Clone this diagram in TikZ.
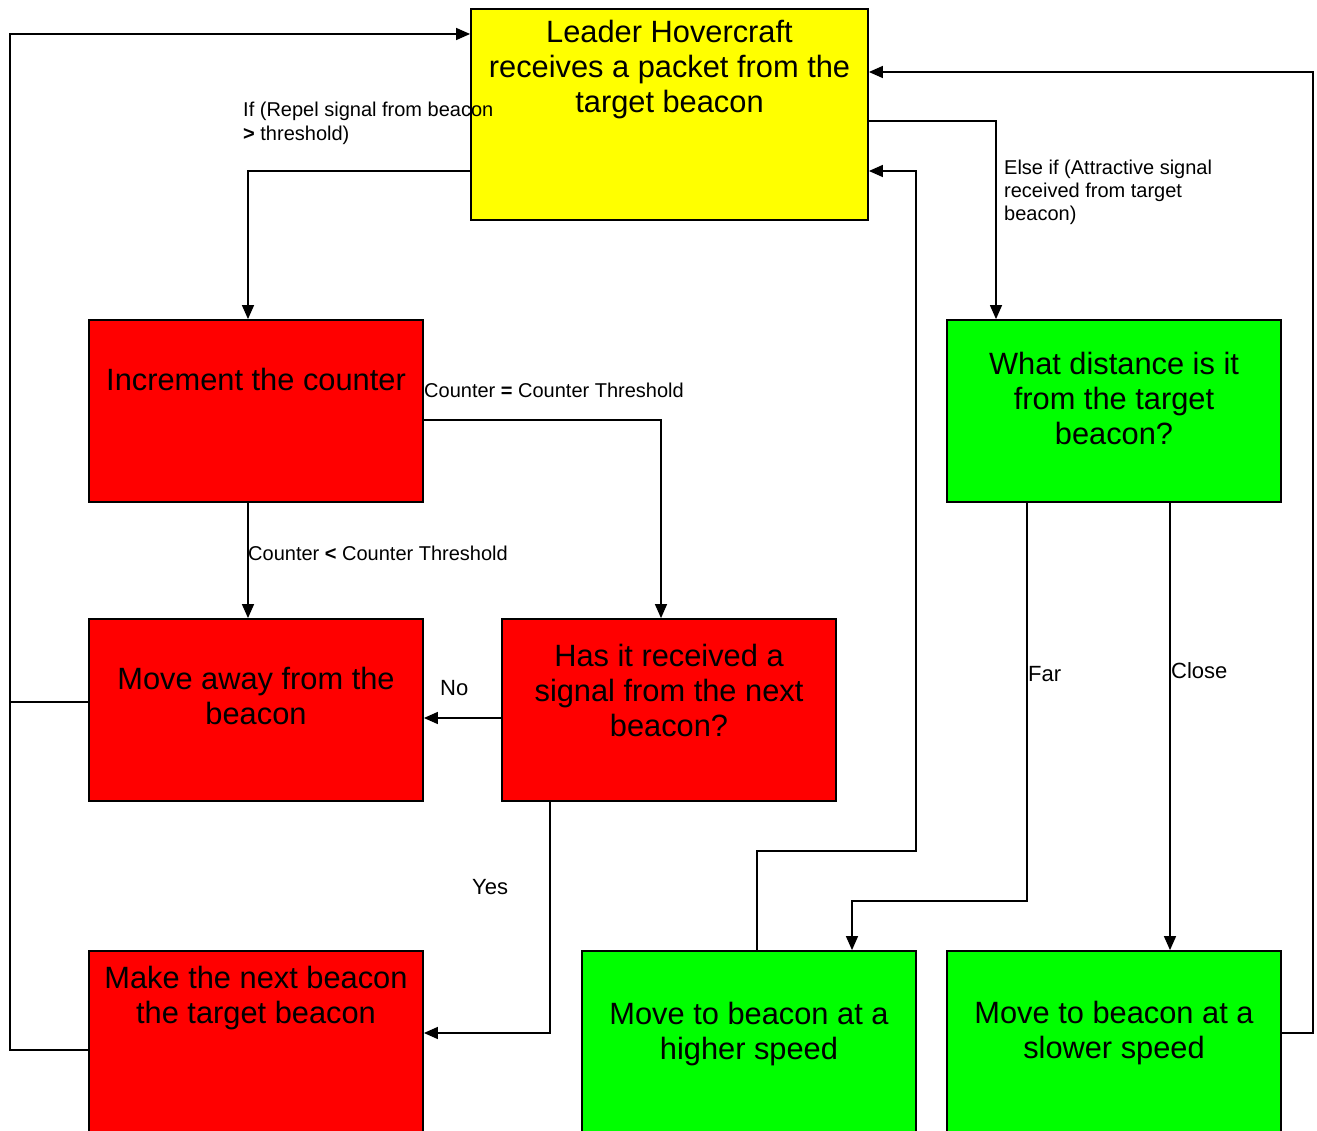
\documentclass[tikz,border=0pt]{standalone}
\usepackage{fontspec}
\setmainfont{Liberation Sans}
\usetikzlibrary{arrows.meta}
\definecolor{byellow}{RGB}{255,255,0}
\definecolor{bred}{RGB}{255,0,0}
\definecolor{bgreen}{RGB}{0,255,0}
\tikzset{
  box/.style={draw=black, line width=1.8pt, inner sep=0pt, rectangle},
  wide/.style={box, minimum width=397pt, minimum height=211pt},
  std/.style={box, minimum width=334pt, minimum height=182pt},
  btext/.style={inner sep=0pt, align=center, anchor=base, font=\fontsize{30.8}{35}\selectfont},
  ltext/.style={inner sep=0pt, align=left, anchor=base west, font=\fontsize{20}{24}\selectfont},
  ytext/.style={inner sep=0pt, anchor=base west, font=\fontsize{22}{26}\selectfont},
  conn/.style={draw=black, line width=1.4pt},
  arr/.style={conn, -{Triangle[length=14pt,width=12pt]}}
}
\begin{document}
\begin{tikzpicture}[x=1pt,y=-1pt]
\clip (0,0) rectangle (1317,1131);
\fill[white] (0,0) rectangle (1317,1131);
% boxes
\node[wide, fill=byellow] (yel) at (669.5,114.5) {};
\node[std, fill=bred] (inc) at (256,411) {};
\node[std, fill=bgreen] (dist) at (1114,411) {};
\node[std, fill=bred] (away) at (256,710) {};
\node[std, fill=bred] (has) at (669,710) {};
\node[std, fill=bred] (make) at (256,1042) {};
\node[std, fill=bgreen] (high) at (749,1042) {};
\node[std, fill=bgreen] (slow) at (1114,1042) {};
% box texts (anchor base = baseline of last line)
\node[btext] (tyel) at (669.5,113) {Leader Hovercraft\\receives a packet from the\\target beacon};
\node[btext] (tinc) at (256,391) {Increment the counter};
\node[btext] (tdist) at (1114,444) {What distance is it\\from the target\\beacon?};
\node[btext] (taway) at (256,724) {Move away from the\\beacon};
\node[btext] (thas) at (669,736) {Has it received a\\signal from the next\\beacon?};
\node[btext] (tmake) at (256,1023) {Make the next beacon\\the target beacon};
\node[btext] (thigh) at (749,1059) {Move to beacon at a\\higher speed};
\node[btext] (tslow) at (1114,1058) {Move to beacon at a\\slower speed};
% bend coordinates
\coordinate (c1) at (248,171);
\coordinate (c2) at (996,121);
\coordinate (c3) at (661,420);
\coordinate (c4) at (248,0);
\coordinate (c5) at (0,718);
\coordinate (c6) at (550,1033);
\coordinate (c7) at (10,702);
\coordinate (c8) at (10,1050);
\coordinate (c9) at (10,34);
\coordinate (c10) at (1027,901);
\coordinate (c11) at (852,901);
\coordinate (c12) at (1170,0);
\coordinate (c13) at (757,851);
\coordinate (c14) at (916,851);
\coordinate (c15) at (916,171);
\coordinate (c16) at (1313,1033);
\coordinate (c17) at (1313,72);
% connectors
\draw[arr] (yel.west |- c1) -- (c1) -- (inc.north -| c1);
\draw[arr] (yel.east |- c2) -- (c2) -- (dist.north -| c2);
\draw[arr] (inc.east |- c3) -- (c3) -- (has.north -| c3);
\draw[arr] (inc.south -| c4) -- (away.north -| c4);
\draw[arr] (has.west |- c5) -- (away.east |- c5);
\draw[arr] (has.south -| c6) -- (c6) -- (make.east |- c6);
\draw[conn] (away.west |- c7) -- (c7);
\draw[arr] (make.west |- c8) -- (c8) -- (c9) -- (yel.west |- c9);
\draw[arr] (dist.south -| c10) -- (c10) -- (c11) -- (high.north -| c11);
\draw[arr] (dist.south -| c12) -- (slow.north -| c12);
\draw[arr] (high.north -| c13) -- (c13) -- (c14) -- (c15) -- (yel.east |- c15);
\draw[arr] (slow.east |- c16) -- (c16) -- (c17) -- (yel.east |- c17);
% labels (anchor base west = baseline of last line)
\node[ltext] (lrep) at (243,141) {If (Repel signal from beacon\\\textbf{>} threshold)};
\node[ltext, font=\fontsize{20}{23.3}\selectfont] (latt) at (1004,221) {Else if (Attractive signal\\received from target\\beacon)};
\node[ltext] (leq) at (424,397) {Counter \textbf{=} Counter Threshold};
\node[ltext] (llt) at (248,560) {Counter \textbf{<} Counter Threshold};
\node[ytext] (lno) at (440,695) {No};
\node[ytext] (lyes) at (472,894) {Yes};
\node[ytext] (lfar) at (1028,681) {Far};
\node[ytext] (lclose) at (1171,678) {Close};
\end{tikzpicture}
\end{document}
